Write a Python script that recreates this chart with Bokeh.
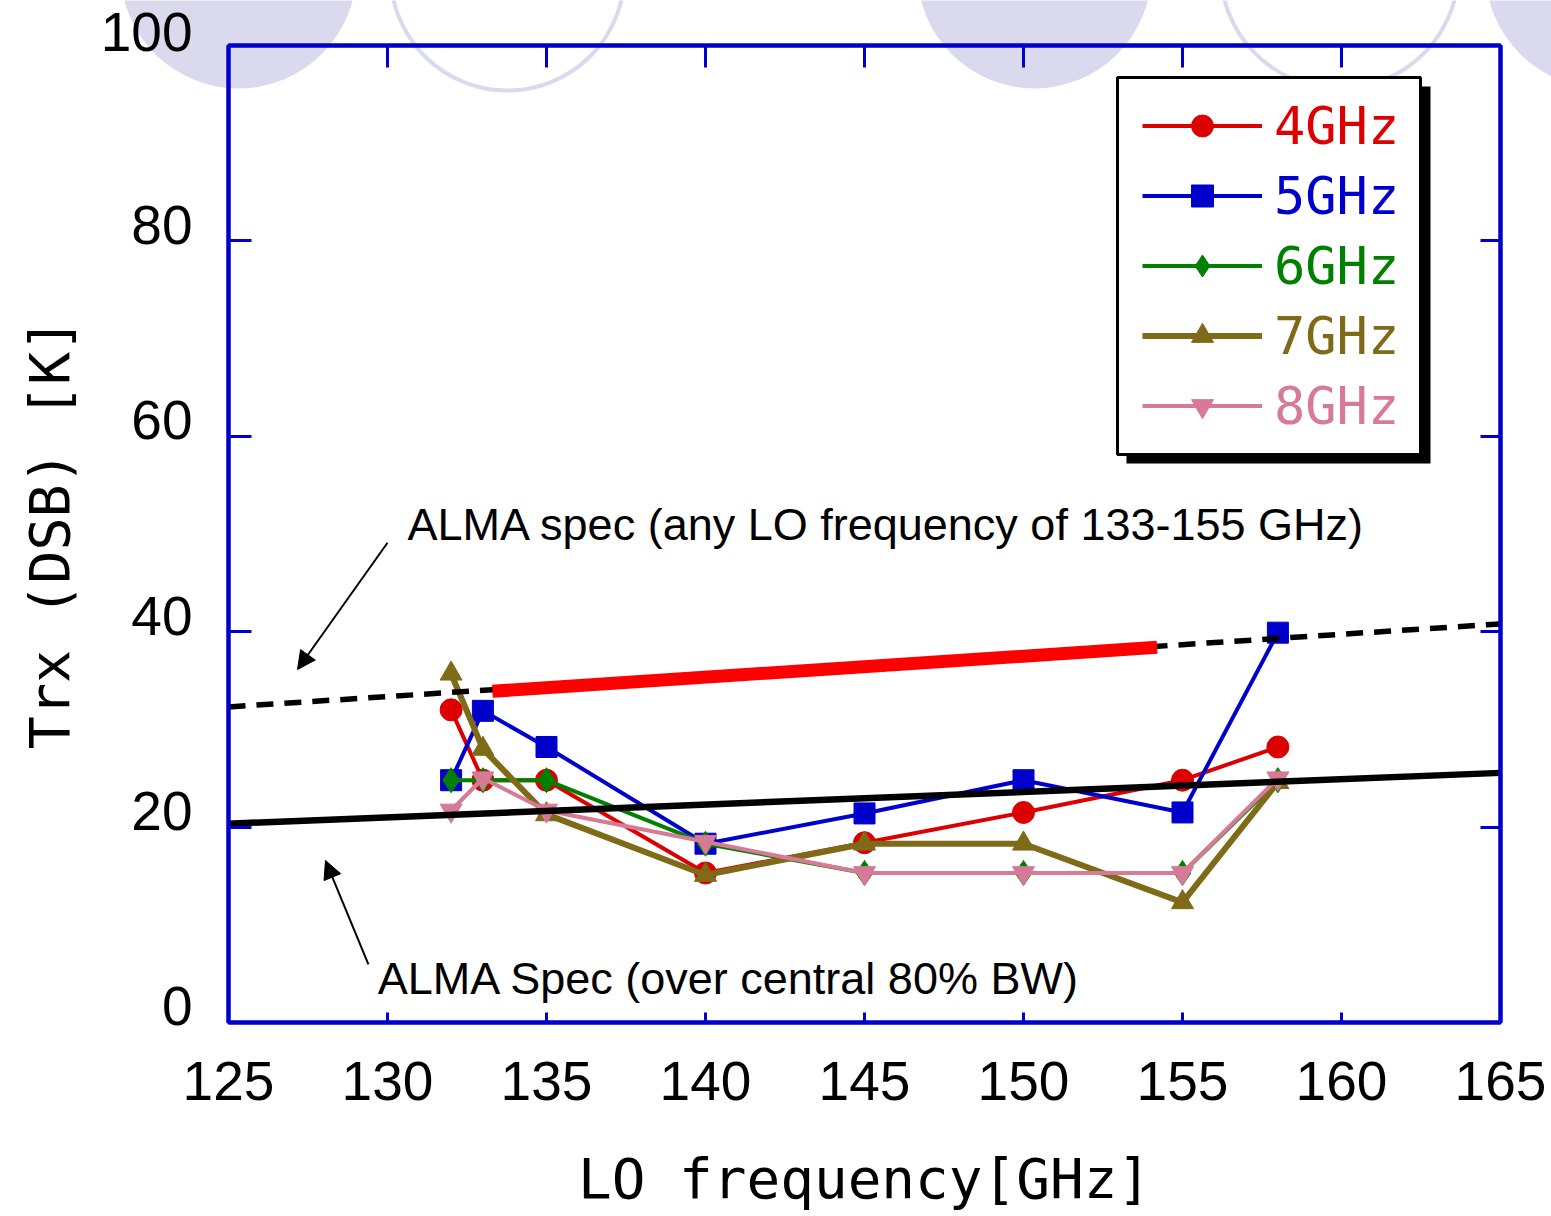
import numpy as np
from bokeh.plotting import figure
from bokeh.layouts import GridBox
from bokeh.models import (Range1d, LinearAxis, FixedTicker, Legend, LegendItem, Label,
                          Arrow, NormalHead, BoxAnnotation)
from bokeh.embed import file_html
from bokeh.resources import INLINE

# ---- measured receiver noise temperature vs LO frequency ----
lo_ghz = [132, 133, 135, 140, 145, 150, 155, 158]
trx_4ghz = [32.0, 24.8, 24.8, 15.3, 18.4, 21.5, 24.8, 28.2]
trx_5ghz = [24.8, 31.9, 28.2, 18.3, 21.4, 24.8, 21.5, 39.9]
trx_6ghz = [24.8, 24.8, 24.8, 18.3, 15.3, 15.3, 15.3, 24.8]
trx_7ghz = [35.7, 28.0, 21.3, 15.1, 18.3, 18.3, 12.3, 24.6]
trx_8ghz = [21.7, 25.0, 21.7, 18.5, 15.3, 15.3, 15.3, 25.0]

series_names = ["4GHz", "5GHz", "6GHz", "7GHz", "8GHz"]
series_values = [trx_4ghz, trx_5ghz, trx_6ghz, trx_7ghz, trx_8ghz]

# ---- ALMA specification lines ----
spec_any_x = [125, 165]
spec_any_y = [32.3, 40.8]
spec_band_x = [133.3, 154.2]
spec_band_y = [33.9, 38.4]
spec_bw_x = [125, 165]
spec_bw_y = [20.35, 25.55]

x_ticks = [125, 130, 135, 140, 145, 150, 155, 160, 165]
y_ticks = [0, 20, 40, 60, 80, 100]

# ---- styling ----
BLUE_FRAME = "#0000CC"
LAVENDER = "#DAD9EE"
series_colors = ["#DD0000", "#0000CC", "#008000", "#7F6A18", "#D67A96"]
series_markers = ["circle", "square", "diamond", "triangle", "inverted_triangle"]
series_sizes = [22, 21, 25, 22, 22]
series_widths = [4, 4, 4, 6, 4]
TICK_FONT = "Liberation Sans"
MONO_FONT = "DejaVu Sans Mono"
W, H = 1551, 1216

# ---- page background: discs and rings along the top edge (pixel coordinates) ----
disc_x, disc_y, disc_r = [238, 1034, 1603], [-30, -29, -30], [118, 117, 118]
ring_x, ring_y, ring_r = [507, 1339], [-27, -31], [117, 119]

bg = figure(width=W, height=H, x_range=Range1d(0, W), y_range=Range1d(H, 0),
            x_axis_location=None, y_axis_location=None, title=None,
            min_border=0, output_backend="svg", toolbar_location=None)
bg.frame_align = False
bg.outline_line_color = None
bg.xgrid.grid_line_color = None
bg.ygrid.grid_line_color = None
bg.background_fill_color = "white"
bg.border_fill_color = "white"
bg.circle(x=disc_x, y=disc_y, radius=disc_r, fill_color=LAVENDER, line_color=None)
bg.circle(x=ring_x, y=ring_y, radius=ring_r, fill_color=None,
          line_color=LAVENDER, line_width=4)

# ---- main chart (transparent, laid over the background) ----
fig = figure(width=W, height=H,
             x_range=Range1d(125, 165), y_range=Range1d(0, 100),
             x_axis_location=None, y_axis_location=None,
             min_border_left=228, min_border_right=51,
             min_border_top=45, min_border_bottom=194,
             output_backend="svg", toolbar_location=None)
fig.frame_align = False
fig.background_fill_alpha = 0
fig.border_fill_alpha = 0
fig.outline_line_color = BLUE_FRAME
fig.outline_line_width = 4
fig.xgrid.grid_line_color = None
fig.ygrid.grid_line_color = None

x_axis = LinearAxis(ticker=FixedTicker(ticks=x_ticks),
                    major_tick_in=10, major_tick_out=0,
                    major_tick_line_color=BLUE_FRAME, major_tick_line_width=3,
                    minor_tick_line_color=None,
                    axis_line_color=BLUE_FRAME, axis_line_width=4,
                    major_label_text_font=TICK_FONT, major_label_text_font_size="55px",
                    major_label_text_color="black", major_label_standoff=39,
                    axis_label="LO frequency[GHz]", axis_label_standoff=43,
                    axis_label_text_font=MONO_FONT, axis_label_text_font_size="56px",
                    axis_label_text_font_style="normal", axis_label_text_color="black")
fig.add_layout(x_axis, "below")

top_axis = LinearAxis(ticker=FixedTicker(ticks=x_ticks[1:-1]),
                      major_tick_in=22, major_tick_out=0,
                      major_tick_line_color=BLUE_FRAME, major_tick_line_width=3,
                      minor_tick_line_color=None,
                      axis_line_color=BLUE_FRAME, axis_line_width=4,
                      major_label_text_color=None, major_label_text_font_size="1px",
                      major_label_standoff=0)
fig.add_layout(top_axis, "above")

right_axis = LinearAxis(ticker=FixedTicker(ticks=y_ticks[1:-1]),
                        major_tick_in=20, major_tick_out=0,
                        major_tick_line_color=BLUE_FRAME, major_tick_line_width=3,
                        minor_tick_line_color=None,
                        axis_line_color=BLUE_FRAME, axis_line_width=4,
                        major_label_text_color=None, major_label_text_font_size="1px",
                        major_label_standoff=0)
fig.add_layout(right_axis, "right")

# y tick labels carry an empty second line with a tight line height,
# which lifts each number slightly above its tick
y_axis = LinearAxis(ticker=FixedTicker(ticks=y_ticks),
                    major_label_overrides={v: f"{v}\n" for v in y_ticks},
                    major_label_text_line_height=0.52,
                    major_tick_in=23, major_tick_out=0,
                    major_tick_line_color=BLUE_FRAME, major_tick_line_width=3,
                    minor_tick_line_color=None,
                    axis_line_color=BLUE_FRAME, axis_line_width=4,
                    major_label_text_font=TICK_FONT, major_label_text_font_size="55px",
                    major_label_text_color="black", major_label_standoff=36,
                    axis_label="Trx (DSB) [K]", axis_label_standoff=16,
                    axis_label_text_font=MONO_FONT, axis_label_text_font_size="55px",
                    axis_label_text_font_style="normal", axis_label_text_color="black")
fig.add_layout(y_axis, "left")

# ---- measured series ----
legend_entries = []
for name, vals, col, mk, sz, lw in zip(series_names, series_values, series_colors,
                                       series_markers, series_sizes, series_widths):
    lr = fig.line(lo_ghz, vals, line_color=col, line_width=lw)
    sr = fig.scatter(lo_ghz, vals, marker=mk, size=sz,
                     fill_color=col, line_color=col, line_width=1)
    legend_entries.append((name, col, [lr, sr]))

# ---- specification lines ----
fig.line(spec_any_x, spec_any_y, line_color="black", line_width=5.5, line_dash="17 11")
fig.line(spec_band_x, spec_band_y, line_color="#FF0000", line_width=13)
fig.line(spec_bw_x, spec_bw_y, line_color="black", line_width=6.5)

# ---- annotations ----
fig.add_layout(Label(x=130.63, y=50.97, text="ALMA spec (any LO frequency of 133-155 GHz)",
                     text_font=TICK_FONT, text_font_size="45px", text_color="black",
                     text_baseline="middle", text_align="left"))
fig.add_layout(Label(x=129.69, y=4.55, text="ALMA Spec (over central 80% BW)",
                     text_font=TICK_FONT, text_font_size="45px", text_color="black",
                     text_baseline="middle", text_align="left"))
fig.add_layout(Arrow(x_start=130.0, y_start=49.1, x_end=127.17, y_end=36.13,
                     line_color="black", line_width=2,
                     end=NormalHead(size=18, fill_color="black", line_color="black", line_width=1)))
fig.add_layout(Arrow(x_start=129.40, y_start=5.94, x_end=128.05, y_end=16.58,
                     line_color="black", line_width=2,
                     end=NormalHead(size=18, fill_color="black", line_color="black", line_width=1)))

# ---- legend: framed box with drop shadow, one coloured entry per row ----
fig.add_layout(BoxAnnotation(left=1126, right=1430, top=86, bottom=463,
                             left_units="canvas", right_units="canvas",
                             top_units="canvas", bottom_units="canvas",
                             fill_color="black", fill_alpha=1, line_color=None))
fig.add_layout(BoxAnnotation(left=1117, right=1420, top=77, bottom=454,
                             left_units="canvas", right_units="canvas",
                             top_units="canvas", bottom_units="canvas",
                             fill_color="white", fill_alpha=1,
                             line_color="black", line_width=3, line_alpha=1))

row_centers = [125, 195, 265, 335, 405]
frame_left, frame_bottom = 228, 1022
item_h = 61
for (name, col, rends), cy in zip(legend_entries, row_centers):
    leg = Legend(items=[LegendItem(label=name, renderers=rends)],
                 location=(1142 - frame_left, frame_bottom - cy - item_h / 2),
                 glyph_width=120, glyph_height=55, label_height=55,
                 label_standoff=12, label_text_font=MONO_FONT,
                 label_text_font_size="52px", label_text_color=col,
                 padding=0, margin=0, spacing=0,
                 border_line_color=None, background_fill_alpha=0)
    fig.add_layout(leg, "center")

# background and chart share one grid cell, chart on top
p = GridBox(children=[(bg, 0, 0), (fig, 0, 0)])

open("out.html", "w").write(file_html(p, INLINE))
